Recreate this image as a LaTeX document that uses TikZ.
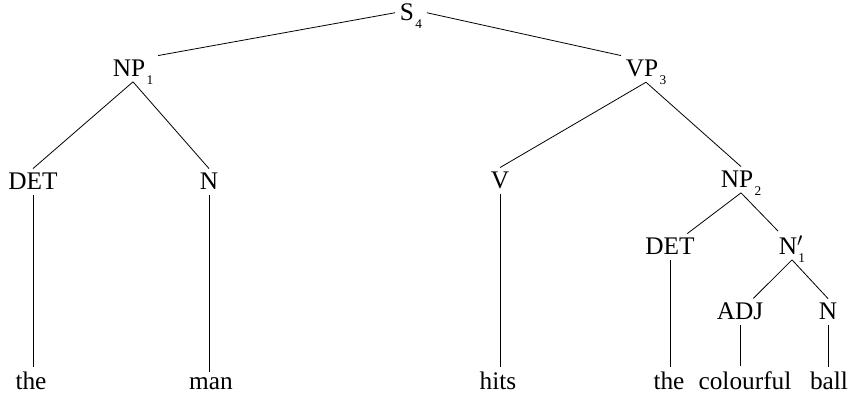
\documentclass[tikz,border=0pt]{standalone}
\usepackage{fontspec}
\setmainfont{Liberation Serif}
\usetikzlibrary{positioning}
\newcommand{\idx}[1]{\hspace{1pt}\raisebox{-6pt}[0pt][0pt]{\fontsize{10}{10}\selectfont #1}}

\begin{document}
\begin{tikzpicture}[x=0.75pt,y=-0.75pt,line width=0.6pt,
    every node/.style={font=\fontsize{19}{21}\selectfont, anchor=base}]
    \useasboundingbox (0,0) rectangle (853,395);
    % phrase labels
    \node (s) at (411,21) {S\idx{4}};
    \node (np1) at (133,77) {NP\idx{1}};
    \node (vp3) at (646,77) {VP\idx{3}};
    \node (det1) at (33,190) {DET};
    \node (n1) at (209,190) {N};
    \node (v) at (500,189) {V};
    \node (np2) at (741,188) {NP\idx{2}};
    \node (det2) at (670,255) {DET};
    \node (nbar) at (792,255) {N\rlap{$'$}\idx{1}};
    \node (adj) at (740,320) {ADJ};
    \node (n2) at (828,320) {N};
    % words
    \node (the1) at (31,389) {the};
    \node (man) at (211,389) {man};
    \node (hits) at (498,389) {hits};
    \node (the2) at (669,389) {the};
    \node (colourful) at (745,389) {colourful};
    \node (ball) at (829,389) {ball};
    % branches
    \draw (s.west) -- (np1.north east);
    \draw (s.east) -- (vp3.north west);
    \draw (np1.south) -- (det1.north);
    \draw (np1.south) -- (n1.north);
    \draw (vp3.south) -- (v.north);
    \draw (vp3.south) -- (np2.north);
    \draw (np2.south) -- (det2);
    \draw (np2.south) -- (nbar);
    \draw (nbar.south) -- (adj);
    \draw (nbar.south) -- (n2.north);
    % lexical items
    \draw (det1.south) -- (det1.south |- the1.north);
    \draw (n1.south) -- (n1.south |- man.north);
    \draw (v.south) -- (v.south |- hits.north);
    \draw (det2.south) -- (det2.south |- the2.north);
    \draw (adj.south) -- (adj.south |- colourful.north);
    \draw (n2.south) -- (n2.south |- ball.north);
\end{tikzpicture}
\end{document}
